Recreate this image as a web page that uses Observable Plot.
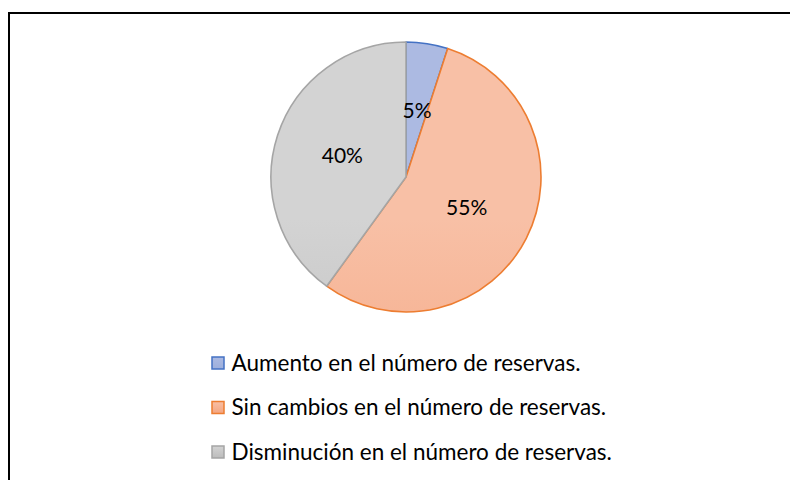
<!DOCTYPE html>
<html>
<head>
<meta charset="utf-8">
<script src="https://cdn.jsdelivr.net/npm/d3@7"></script>
<script src="https://cdn.jsdelivr.net/npm/@observablehq/plot@0.6"></script>
<style>
  html, body { margin: 0; padding: 0; background: #fff; }
  svg { display: block; }
</style>
</head>
<body>
<div id="chart"></div>
<script>
// ---- data ----
const categories = [
  "Aumento en el número de reservas.",
  "Sin cambios en el número de reservas.",
  "Disminución en el número de reservas."
];
const values = [5, 55, 40];
const labels = ["5%", "55%", "40%"];
const strokeColors = ["#4472c4", "#ed7d31", "#a5a5a5"];
const fillTop = ["#acbae2", "#f8c0a6", "#d3d3d3"];
const fillBottom = ["#9dafdc", "#f4a580", "#bcbcbc"];

// ---- layout ----
const W = 790, H = 480;
const CX = 406, CY = 177, R = 135;
const legendX = 218, legendY0 = 363, legendStep = 44.5, sq = 12;

const pie = d3.pie().sort(null).value(d => d)(values);
const arcGen = d3.arc().innerRadius(0).outerRadius(R);
const slices = pie.map((p, i) => {
  const [dx, dy] = arcGen.centroid(p);
  return {i, cat: categories[i], value: values[i], label: labels[i], lx: CX + dx, ly: CY + dy, p};
});
const legend = categories.map((c, i) => ({i, cat: c, y: legendY0 + i * legendStep}));

function gradDefs(svgNS, defs, idPrefix, i, y1, y2) {
  const g = document.createElementNS(svgNS, "linearGradient");
  g.setAttribute("id", idPrefix + i);
  g.setAttribute("gradientUnits", "userSpaceOnUse");
  g.setAttribute("x1", 0); g.setAttribute("x2", 0);
  g.setAttribute("y1", y1); g.setAttribute("y2", y2);
  [[0, fillTop[i]], [1, fillBottom[i]]].forEach(([o, c]) => {
    const s = document.createElementNS(svgNS, "stop");
    s.setAttribute("offset", o); s.setAttribute("stop-color", c);
    g.appendChild(s);
  });
  defs.appendChild(g);
}

const pieMark = (index, scales) => {
  const svgNS = "http://www.w3.org/2000/svg";
  const cx = scales.x(CX), cy = scales.y(CY);
  const r = scales.x(CX + R) - scales.x(CX);
  const arc = d3.arc().innerRadius(0).outerRadius(r);
  const g = document.createElementNS(svgNS, "g");
  const defs = document.createElementNS(svgNS, "defs");
  g.appendChild(defs);
  slices.forEach(s => gradDefs(svgNS, defs, "pg", s.i, cy - r, cy + r));
  legend.forEach(l => gradDefs(svgNS, defs, "lg", l.i, scales.y(l.y - sq / 2), scales.y(l.y + sq / 2)));
  slices.forEach(s => {
    const path = document.createElementNS(svgNS, "path");
    path.setAttribute("d", arc(s.p));
    path.setAttribute("transform", `translate(${cx},${cy})`);
    path.setAttribute("fill", `url(#pg${s.i})`);
    path.setAttribute("stroke", strokeColors[s.i]);
    path.setAttribute("stroke-width", 1.6);
    path.setAttribute("stroke-linejoin", "round");
    g.appendChild(path);
  });
  legend.forEach(l => {
    const rect = document.createElementNS(svgNS, "rect");
    rect.setAttribute("x", scales.x(legendX - sq / 2));
    rect.setAttribute("y", scales.y(l.y - sq / 2));
    rect.setAttribute("width", scales.x(legendX + sq / 2) - scales.x(legendX - sq / 2));
    rect.setAttribute("height", scales.y(l.y + sq / 2) - scales.y(l.y - sq / 2));
    rect.setAttribute("fill", `url(#lg${l.i})`);
    rect.setAttribute("stroke", strokeColors[l.i]);
    rect.setAttribute("stroke-width", 1.5);
    g.appendChild(rect);
  });
  return g;
};

const chart = Plot.plot({
  width: W,
  height: H,
  margin: 0,
  style: {background: "#fff"},
  x: {domain: [0, W], range: [0, W], axis: null},
  y: {domain: [0, H], range: [0, H], axis: null},
  marks: [
    Plot.ruleY([12.5], {x1: 8, x2: W + 10, stroke: "#000", strokeWidth: 2}),
    Plot.ruleX([8.5], {y1: 12, y2: H + 10, stroke: "#000", strokeWidth: 2}),
    pieMark,
    Plot.text(slices, {
      x: "lx", y: "ly", text: "label",
      fontSize: 21, fill: "#000", fontFamily: "Lato", textAnchor: "middle"
    }),
    Plot.text(legend, {
      x: legendX + 13, y: "y", text: "cat",
      fontSize: 22.5, fill: "#000", fontFamily: "Lato", textAnchor: "start"
    })
  ]
});
document.getElementById("chart").appendChild(chart);
</script>
</body>
</html>
